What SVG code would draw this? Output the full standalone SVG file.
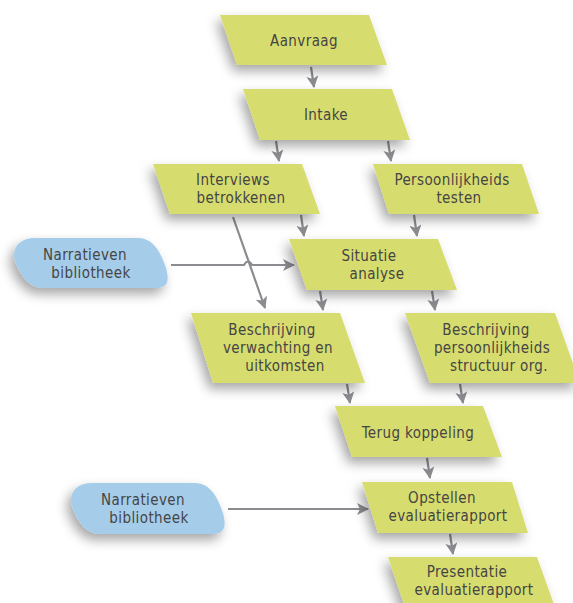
<svg xmlns="http://www.w3.org/2000/svg" width="573" height="603" viewBox="0 0 573 603">
<style>
.n{fill:#d7dc6e;filter:url(#sh)}
.b{fill:#a5cdea;filter:url(#sh)}
text{font-family:"DejaVu Sans Condensed","Liberation Sans",sans-serif;font-size:15px;letter-spacing:0.4px;fill:#454545;text-anchor:middle}
.c{fill:none;stroke:#8b8c90;stroke-width:2.2;marker-end:url(#ah)}
</style>
<defs>
<filter id="sh" x="-30%" y="-30%" width="160%" height="180%">
<feDropShadow dx="-4" dy="6" stdDeviation="6" flood-color="#000" flood-opacity="0.35"/>
</filter>
<marker id="ah" viewBox="0 0 12 12" refX="11" refY="6" markerWidth="12" markerHeight="12" markerUnits="userSpaceOnUse" orient="auto">
<path d="M0,0 L12,6 L0,12 L3,6 Z" fill="#8b8c90"/>
</marker>
</defs>
<rect width="573" height="603" fill="#fff"/>
<g id="connectors">
<path class="c" d="M311,67 L314,87"/>
<path class="c" d="M276,141 L279,161"/>
<path class="c" d="M388,141 L391,161"/>
<path class="c" d="M301,215 L304,236"/>
<path class="c" d="M414,215 L417,236"/>
<path class="c" d="M233,217 L265,308"/>
<path class="c" d="M171,265 H244 Q248,258 252,265 H294"/>
<path class="c" d="M320,291 L323,310"/>
<path class="c" d="M432,291 L435,310"/>
<path class="c" d="M347,384 L350,403"/>
<path class="c" d="M460,384 L463,403"/>
<path class="c" d="M427,458 L430,478"/>
<path class="c" d="M450,534 L453,554"/>
<path class="c" d="M228,509 H368"/>
</g>
<g id="aanvraag"><polygon class="n" points="220,15 369,15 387,65 237,65"/><text x="304" y="46">Aanvraag</text></g>
<g id="intake"><polygon class="n" points="243,89 392,89 410,140 260,140"/><text x="326" y="120">Intake</text></g>
<g id="interviews"><polygon class="n" points="153,164 302,164 320,214 170,214"/><text x="233" y="185">Interviews</text><text x="241" y="203">betrokkenen</text></g>
<g id="persoonlijkheids"><polygon class="n" points="373,164 522,164 539,214 389,214"/><text x="452" y="185">Persoonlijkheids</text><text x="459" y="203">testen</text></g>
<g id="narratieven1"><path class="b" d="M35,238 H138 C152,238 160,250 166,268 C170,282 167,288 156,288 H44 C30,288 22,278 16,264 C10,250 18,238 35,238 Z"/><text x="85" y="260">Narratieven</text><text x="91" y="278">bibliotheek</text></g>
<g id="situatie"><polygon class="n" points="289,239 438,239 457,290 307,290"/><text x="369" y="261">Situatie</text><text x="377" y="279">analyse</text></g>
<g id="beschrijving1"><polygon class="n" points="191,313 340,313 365,383 213,383"/><text x="272" y="335">Beschrijving</text><text x="278" y="353">verwachting en</text><text x="285" y="371">uitkomsten</text></g>
<g id="beschrijving2"><polygon class="n" points="405,313 555,313 580,383 430,383"/><text x="486" y="335">Beschrijving</text><text x="492" y="353">persoonlijkheids</text><text x="499" y="371">structuur org.</text></g>
<g id="terugkoppeling"><polygon class="n" points="335,406 483,406 502,457 352,457"/><text x="418" y="438">Terug koppeling</text></g>
<g id="narratieven2"><path class="b" d="M92,483 H195 C209,483 217,495 223,513 C227,527 224,534 213,534 H101 C87,534 79,524 73,509 C67,495 75,483 92,483 Z"/><text x="143" y="505">Narratieven</text><text x="149" y="523">bibliotheek</text></g>
<g id="opstellen"><polygon class="n" points="362,482 512,482 528,533 378,533"/><text x="442" y="503">Opstellen</text><text x="448" y="521">evaluatierapport</text></g>
<g id="presentatie"><polygon class="n" points="388,557 537,557 556,610 406,610"/><text x="467" y="577">Presentatie</text><text x="474" y="595">evaluatierapport</text></g>
</svg>
